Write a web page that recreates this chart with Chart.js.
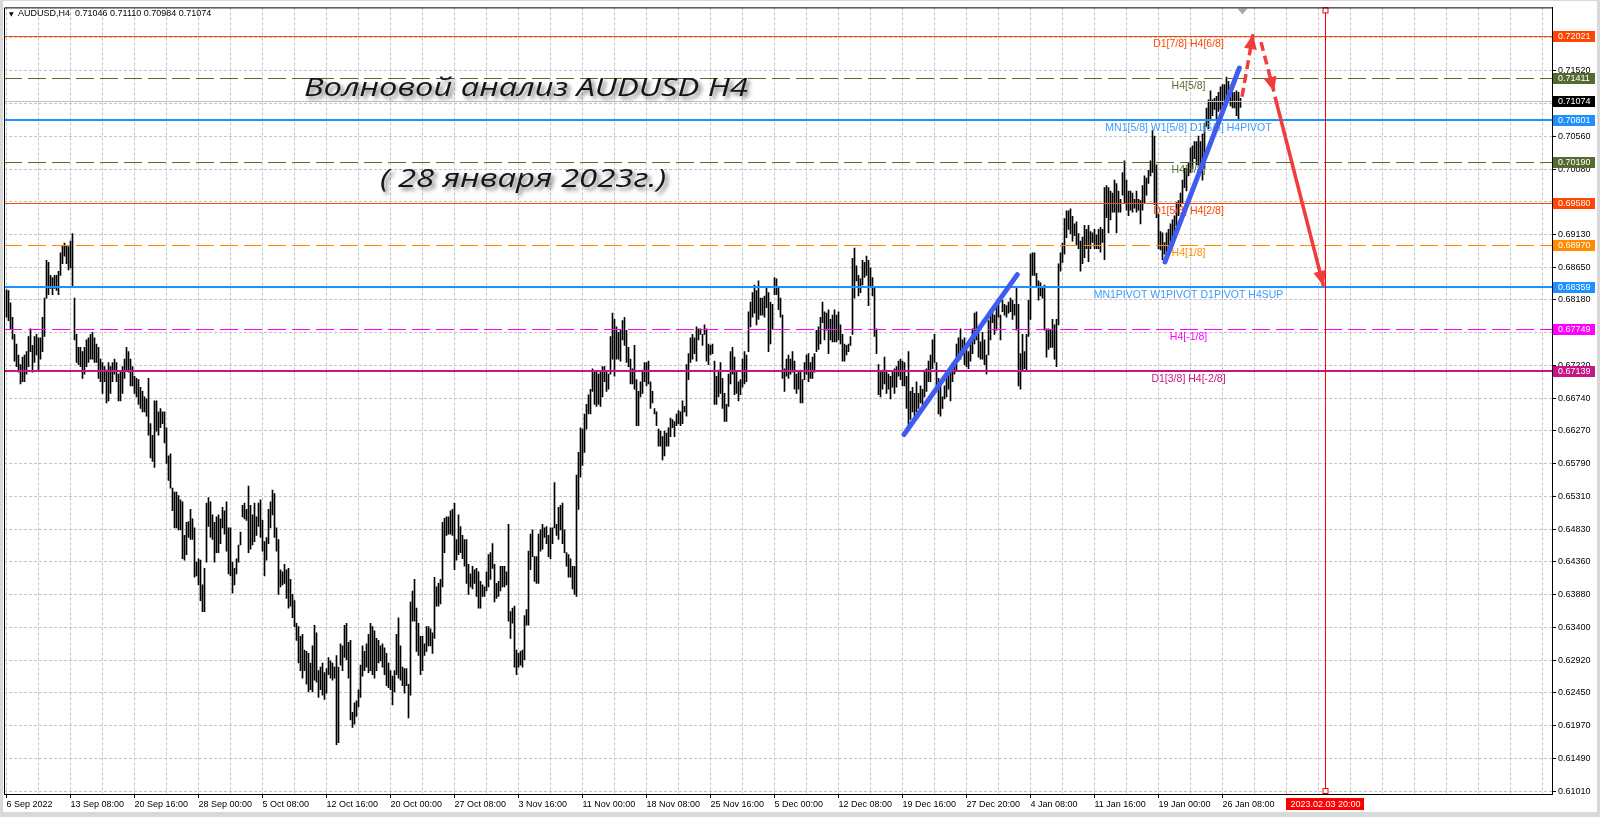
<!DOCTYPE html>
<html>
<head>
<meta charset="utf-8">
<script src="https://cdn.jsdelivr.net/npm/chart.js@4.4.1/dist/chart.umd.min.js"></script>
<style>
  html, body { margin: 0; padding: 0; background: #fff; }
  canvas { display: block; }
</style>
</head>
<body>
<canvas id="chart" width="1600" height="817"></canvas>
<script>
// H4 bars, 6 Sep 2022 00:00 .. 27 Jan 2023 20:00 (bar index = position)
var barHigh = [
  .6832,.6831,.6813,.6792,.6767,.6753,.6737,.6723,.6734,.6737, .6742,.6764,.6775,.6751,.6764,.6767,.6762,.6762,.6792,.6820,
  .6875,.6872,.6853,.6850,.6853,.6853,.6859,.6886,.6897,.6900, .6897,.6895,.6903,.6914,.6820,.6767,.6748,.6748,.6742,.6748,
  .6759,.6762,.6767,.6770,.6762,.6753,.6748,.6731,.6726,.6720, .6715,.6726,.6720,.6726,.6731,.6726,.6709,.6712,.6720,.6731,
  .6748,.6742,.6731,.6720,.6706,.6703,.6701,.6690,.6684,.6676, .6673,.6703,.6637,.6620,.6670,.6670,.6654,.6659,.6654,.6654,
  .6631,.6590,.6593,.6543,.6537,.6537,.6532,.6526,
  .6523,.6474,.6493,.6494,.6512,.6498,.6485,.6435,.6440,.6438, .6402,.6426,.6521,.6529,.6523,.6504,.6493,.6501,.6504,.6498,
  .6515,.6510,.6523,.6485,.6485,.6435,.6426,.6440,.6460,.6479, .6518,.6521,.6512,.6546,.6518,.6504,.6521,.6501,.6521,.6526,
  .6496,.6465,.6471,.6512,.6523,.6540,.6535,.6485,.6468,.6424, .6421,.6432,.6424,.6426,.6410,.6388,.6379,.6346,.6341,.6327,
  .6330,.6307,.6305,.6302,.6288,.6313,.6343,.6332,.6277,.6282, .6288,.6274,.6280,.6296,.6291,.6288,.6282,.6299,.6282,.6316,
  .6313,.6343,.6346,.6318,.6321,.6216,.6230,.6233,.6249,.6285,
  .6313,.6305,.6316,.6330,.6346,.6341,.6335,.6324,.6321,.6313, .6316,.6310,.6302,.6288,.6277,.6269,.6277,.6330,.6354,.6313,
  .6282,.6280,.6280,.6257,.6377,.6393,.6410,.6368,.6346,.6327, .6327,.6316,.6341,.6341,.6338,.6332,.6413,.6399,.6404,.6410,
  .6493,.6499,.6501,.6501,.6510,.6512,.6521,.6468,.6504,.6487, .6474,.6468,.6468,.6432,.6418,.6429,.6424,.6426,.6421,.6407,
  .6402,.6399,.6421,.6446,.6449,.6462,.6432,.6404,.6407,.6429, .6429,.6429,.6421,.6490,.6363,.6368,.6371,.6307,.6302,.6305,
  .6307,.6357,.6366,.6451,.6476,.6482,.6443,.6443,.6476,.6482,
  .6490,.6485,.6487,.6474,.6485,.6485,.6551,.6490,.6515,.6518, .6521,.6482,.6449,.6446,.6440,.6429,.6429,.6562,.6595,.6631,
  .6629,.6651,.6665,.6679,.6687,.6717,.6712,.6712,.6709,.6712, .6720,.6720,.6712,.6709,.6764,.6798,.6789,.6778,.6770,.6773,
  .6787,.6792,.6773,.6748,.6731,.6717,.6751,.6701,.6684,.6698, .6715,.6726,.6726,.6728,.6698,.6684,.6659,.6654,.6629,.6626,
  .6618,.6626,.6623,.6631,.6645,.6643,.6640,.6651,.6656,.6654, .6670,.6662,.6723,.6739,.6762,.6767,.6762,.6778,.6775,.6775,
  .6767,.6781,.6775,.6753,.6751,.6753,.6728,.6706,.6715,.6726,
  .6703,.6681,.6665,.6709,.6742,.6748,.6734,.6712,.6698,.6701, .6731,.6742,.6737,.6800,.6814,.6828,.6839,.6831,.6845,.6820,
  .6820,.6823,.6836,.6828,.6814,.6811,.6850,.6848,.6834,.6820, .6795,.6717,.6731,.6737,.6731,.6742,.6728,.6709,.6712,.6715,
  .6701,.6726,.6737,.6739,.6726,.6734,.6739,.6773,.6778,.6792, .6814,.6800,.6798,.6803,.6789,.6795,.6803,.6795,.6800,.6781,
  .6767,.6753,.6751,.6753,.6764,.6878,.6893,.6867,.6853,.6848, .6875,.6872,.6881,.6875,.6864,.6850,.6834,.6775,.6723,.6712,
  .6715,.6734,.6715,.6709,.6706,.6712,.6717,.6720,.6728,.6731,
  .6728,.6726,.6706,.6742,.6684,.6690,.6681,.6698,.6681,.6692, .6687,.6715,.6717,.6728,.6737,.6759,.6767,.6726,.6703,.6695,
  .6676,.6692,.6712,.6709,.6720,.6726,.6728,.6753,.6762,.6775, .6759,.6762,.6745,.6742,.6759,.6775,.6798,.6800,.6773,.6756,
  .6770,.6759,.6737,.6787,.6803,.6806,.6795,.6814,.6820,.6795, .6817,.6811,.6809,.6814,.6820,.6817,.6811,.6836,.6811,.6739,
  .6767,.6742,.6767,.6817,.6884,.6886,.6886,.6856,.6845,.6842, .6836,.6839,.6775,.6775,.6773,.6789,.6781,.6789,.6870,.6886,
  .6900,.6936,.6947,.6947,.6950,.6939,.6928,.6931,.6914,.6903,
  .6909,.6926,.6920,.6926,.6917,.6915,.6920,.6912,.6920,.6923, .6920,.6981,.6984,.6981,.6976,.6973,.6992,.6987,.6976,.6964,
  .7003,.7020,.6992,.6976,.6976,.6973,.6964,.6976,.6964,.6962, .6984,.6998,.6995,.7006,.7020,.7064,.7056,.7014,.6942,.6917,
  .6915,.6901,.6915,.6920,.6928,.6934,.6940,.6959,.6962,.6973, .6992,.7009,.7009,.7017,.7039,.7042,.7048,.7048,.7056,.7048,
  .7059,.7075,.7097,.7109,.7122,.7109,.7111,.7114,.7120,.7128, .7131,.7131,.7142,.7136,.7125,.7120,.7120,.7122,.7120,.7111
];
var barLow = [
  .6792,.6787,.6775,.6760,.6728,.6720,.6712,.6695,.6698,.6698, .6709,.6720,.6742,.6712,.6726,.6737,.6715,.6731,.6742,.6764,
  .6820,.6825,.6834,.6825,.6834,.6831,.6825,.6853,.6870,.6881, .6870,.6861,.6864,.6836,.6759,.6726,.6723,.6720,.6703,.6709,
  .6720,.6726,.6731,.6731,.6726,.6726,.6703,.6698,.6681,.6698, .6667,.6670,.6681,.6698,.6709,.6698,.6670,.6670,.6681,.6703,
  .6715,.6712,.6692,.6692,.6681,.6676,.6665,.6659,.6654,.6654, .6648,.6620,.6587,.6582,.6573,.6626,.6620,.6631,.6637,.6609,
  .6579,.6554,.6543,.6510,.6485,.6485,.6482,.6482,
  .6440,.6438,.6446,.6471,.6468,.6468,.6413,.6415,.6402,.6379, .6363,.6363,.6435,.6487,.6471,.6468,.6435,.6449,.6449,.6462,
  .6485,.6476,.6451,.6418,.6415,.6390,.6402,.6418,.6435,.6460, .6501,.6498,.6496,.6449,.6454,.6460,.6465,.6474,.6487,.6471,
  .6451,.6415,.6438,.6462,.6485,.6504,.6471,.6451,.6388,.6399, .6402,.6404,.6382,.6368,.6371,.6354,.6341,.6321,.6288,.6277,
  .6266,.6277,.6257,.6246,.6249,.6246,.6263,.6260,.6238,.6249, .6241,.6235,.6244,.6271,.6266,.6263,.6266,.6169,.6172,.6285,
  .6277,.6296,.6293,.6266,.6205,.6194,.6199,.6210,.6224,.6238,
  .6269,.6277,.6282,.6274,.6277,.6271,.6266,.6277,.6288,.6291, .6282,.6271,.6255,.6252,.6249,.6227,.6246,.6271,.6266,.6263,
  .6255,.6244,.6255,.6208,.6241,.6349,.6349,.6305,.6299,.6271, .6277,.6299,.6305,.6313,.6313,.6302,.6324,.6371,.6371,.6374,
  .6399,.6449,.6474,.6476,.6476,.6474,.6424,.6438,.6446,.6449, .6440,.6429,.6404,.6388,.6399,.6396,.6404,.6385,.6368,.6368,
  .6385,.6385,.6393,.6399,.6410,.6426,.6377,.6382,.6385,.6393, .6399,.6399,.6402,.6349,.6324,.6346,.6282,.6271,.6282,.6285,
  .6282,.6293,.6343,.6343,.6424,.6443,.6407,.6404,.6404,.6451,
  .6454,.6471,.6462,.6443,.6440,.6462,.6485,.6474,.6468,.6482, .6462,.6449,.6429,.6413,.6413,.6396,.6388,.6385,.6512,.6559,
  .6576,.6595,.6629,.6651,.6651,.6684,.6665,.6662,.6665,.6662, .6676,.6698,.6684,.6687,.6709,.6731,.6706,.6731,.6731,.6728,
  .6759,.6751,.6726,.6720,.6695,.6695,.6687,.6634,.6634,.6676, .6681,.6698,.6692,.6695,.6659,.6667,.6651,.6634,.6604,.6604,
  .6584,.6590,.6604,.6604,.6618,.6631,.6618,.6634,.6637,.6634, .6637,.6654,.6648,.6701,.6726,.6731,.6739,.6728,.6759,.6767,
  .6751,.6767,.6728,.6723,.6737,.6739,.6665,.6665,.6676,.6681,
  .6659,.6640,.6640,.6662,.6695,.6709,.6679,.6681,.6670,.6679, .6690,.6695,.6698,.6742,.6778,.6792,.6798,.6781,.6789,.6795,
  .6795,.6792,.6806,.6742,.6753,.6775,.6825,.6825,.6803,.6792, .6703,.6684,.6706,.6703,.6709,.6712,.6687,.6681,.6687,.6667,
  .6667,.6701,.6709,.6698,.6703,.6703,.6712,.6742,.6745,.6753, .6784,.6759,.6773,.6739,.6759,.6756,.6756,.6756,.6759,.6753,
  .6728,.6728,.6737,.6742,.6751,.6767,.6820,.6845,.6823,.6828, .6839,.6850,.6853,.6809,.6836,.6823,.6764,.6739,.6679,.6676,
  .6687,.6695,.6681,.6687,.6673,.6690,.6681,.6690,.6706,.6701,
  .6692,.6692,.6659,.6631,.6643,.6654,.6643,.6654,.6659,.6667, .6659,.6676,.6684,.6698,.6698,.6717,.6726,.6687,.6651,.6648,
  .6659,.6673,.6676,.6687,.6670,.6698,.6709,.6715,.6728,.6731, .6737,.6723,.6720,.6717,.6728,.6739,.6753,.6759,.6734,.6731,
  .6731,.6723,.6709,.6737,.6759,.6784,.6767,.6773,.6792,.6759, .6800,.6795,.6792,.6798,.6800,.6789,.6795,.6773,.6692,.6687,
  .6715,.6717,.6715,.6764,.6789,.6853,.6853,.6836,.6817,.6823, .6820,.6773,.6734,.6745,.6748,.6748,.6731,.6720,.6781,.6859,
  .6872,.6884,.6908,.6920,.6914,.6903,.6911,.6897,.6892,.6859,
  .6870,.6879,.6892,.6873,.6892,.6901,.6892,.6892,.6892,.6887, .6901,.6876,.6937,.6915,.6934,.6945,.6945,.6915,.6945,.6945,
  .6970,.6959,.6948,.6940,.6948,.6945,.6951,.6945,.6948,.6928, .6948,.6959,.6970,.6987,.6998,.7003,.6956,.6937,.6892,.6890,
  .6876,.6884,.6876,.6892,.6901,.6904,.6915,.6926,.6940,.6953, .6959,.6981,.6976,.6998,.7003,.7009,.7023,.7014,.7014,.7003,
  .6992,.7009,.7070,.7067,.7081,.7086,.7095,.7081,.7092,.7095, .7089,.7108,.7108,.7114,.7100,.7097,.7097,.7086,.7081,.7098
];
var lastOHLC = [0.71046, 0.71110, 0.70984, 0.71074];
var symbolName = 'AUDUSD,H4';

var tickBars = [0, 32, 64, 96, 128, 160, 192, 224, 256, 288, 320, 352, 384, 416, 448, 480, 512, 544, 576, 608];
var tickLabels = ['6 Sep 2022', '13 Sep 08:00', '20 Sep 16:00', '28 Sep 00:00', '5 Oct 08:00', '12 Oct 16:00',
  '20 Oct 00:00', '27 Oct 08:00', '3 Nov 16:00', '11 Nov 00:00', '18 Nov 08:00', '25 Nov 16:00', '5 Dec 00:00',
  '12 Dec 08:00', '19 Dec 16:00', '27 Dec 20:00', '4 Jan 08:00', '11 Jan 16:00', '19 Jan 00:00', '26 Jan 08:00'];
var priceTicks = [0.61010, 0.61490, 0.61970, 0.62450, 0.62920, 0.63400, 0.63880, 0.64360, 0.64830, 0.65310,
  0.65790, 0.66270, 0.66740, 0.67220, 0.67700, 0.68180, 0.68650, 0.69130, 0.69610, 0.70080, 0.70560,
  0.71040, 0.71520, 0.72000];

// Murrey / pivot levels
var levelPrices = [0.72021, 0.71411, 0.70801, 0.70190, 0.69580, 0.68970, 0.68359, 0.67749, 0.67139];
var levelNames = ['D1[7/8] H4[6/8]', 'H4[5/8]', 'MN1[5/8] W1[5/8] D1[6/8] H4PIVOT', 'H4[3/8]', 'D1[5/8] H4[2/8]',
  'H4[1/8]', 'MN1PIVOT W1PIVOT D1PIVOT H4SUP', 'H4[-1/8]', 'D1[3/8] H4[-2/8]'];

// drawn objects: [bar index, price]
var trendA = [[448.75, 0.66212], [505.4, 0.68542]];
var trendB = [[579.25, 0.68726], [616.4, 0.71552]];
var arrowUp = [[617.75, 0.71134], [623.25, 0.72046]];
var arrowDown = [[627.25, 0.71930], [633.75, 0.71206]];
var arrowMain = [[634.25, 0.71134], [658.5, 0.68376]];
var markerBar = 659;
var markerLabel = '2023.02.03 20:00';

var titleText = 'Волновой анализ AUDUSD H4';
var subtitleText = '( 28 января 2023г.)';

// look of the levels, same order as levelPrices
var levelLook = [
  { color: '#ff4500', text: '#ff4500', width: 1, dash: [] },
  { color: '#556b2f', text: '#556b2f', width: 1, dash: [18, 6] },
  { color: '#1e90ff', text: '#3d9bff', width: 2, dash: [] },
  { color: '#556b2f', text: '#556b2f', width: 1, dash: [18, 6] },
  { color: '#ff4500', text: '#ff4500', width: 1, dash: [] },
  { color: '#ff8c00', text: '#ff8c00', width: 1, dash: [18, 6] },
  { color: '#1e90ff', text: '#3d9bff', width: 2, dash: [] },
  { color: '#ff00ff', text: '#ff00ff', width: 1, dash: [18, 6] },
  { color: '#c71585', text: '#c71585', width: 2, dash: [] }
];
var labelBar = 591;
var axisFamily = "'Liberation Sans', Arial, sans-serif";
var axisSize = 9;

function pts(arr) {
  return arr.map(function (p) { return { x: p[0], y: p[1] }; });
}

var gridBars = [];
for (var g = 0; g <= 768; g += 16) gridBars.push(g);

function hline(ctx, x1, x2, py, color, width, dash) {
  var yy = width % 2 ? Math.round(py) + 0.5 : Math.round(py);
  ctx.save();
  ctx.strokeStyle = color;
  ctx.lineWidth = width;
  ctx.setLineDash(dash);
  ctx.beginPath();
  ctx.moveTo(x1, yy);
  ctx.lineTo(x2, yy);
  ctx.stroke();
  ctx.restore();
}

function arrowHead(ctx, x0, y0, x1, y1, color) {
  var a = Math.atan2(y1 - y0, x1 - x0);
  var L = 15, W = 6.5;
  ctx.save();
  ctx.fillStyle = color;
  ctx.beginPath();
  ctx.moveTo(x1, y1);
  ctx.lineTo(x1 - L * Math.cos(a) + W * Math.sin(a), y1 - L * Math.sin(a) - W * Math.cos(a));
  ctx.lineTo(x1 - L * Math.cos(a) - W * Math.sin(a), y1 - L * Math.sin(a) + W * Math.cos(a));
  ctx.closePath();
  ctx.fill();
  ctx.restore();
}

var overlay = {
  id: 'overlay',
  beforeDraw: function (chart) {
    var ctx = chart.ctx;
    ctx.save();
    ctx.fillStyle = '#d9d9d9';
    ctx.fillRect(0, 0, chart.width, chart.height);
    ctx.fillStyle = '#fff';
    ctx.fillRect(3, 1, chart.width - 6, chart.height - 6);
    ctx.restore();
  },
  afterDatasetDraw: function (chart, args) {
    if (args.index !== 0) return;
    var ctx = chart.ctx, a = chart.chartArea, x = chart.scales.x, y = chart.scales.y;
    // bid line
    hline(ctx, a.left, a.right, y.getPixelForValue(lastOHLC[3]), '#c0c0c0', 1, []);
    levelPrices.forEach(function (p, k) {
      var st = levelLook[k];
      hline(ctx, a.left, a.right, y.getPixelForValue(p), st.color, st.width, st.dash);
    });
    ctx.save();
    ctx.font = "10.5px 'Liberation Sans', Arial, sans-serif";
    ctx.textAlign = 'center';
    ctx.textBaseline = 'top';
    var lx = x.getPixelForValue(labelBar);
    levelPrices.forEach(function (p, k) {
      ctx.fillStyle = levelLook[k].text;
      ctx.fillText(levelNames[k], lx, Math.round(y.getPixelForValue(p)) + 3);
    });
    ctx.restore();
    // vertical time marker
    var mx = Math.round(x.getPixelForValue(markerBar)) + 0.5;
    ctx.save();
    ctx.strokeStyle = '#ff0000';
    ctx.lineWidth = 1;
    ctx.beginPath();
    ctx.moveTo(mx, a.top);
    ctx.lineTo(mx, a.bottom);
    ctx.stroke();
    ctx.restore();
  },
  afterDatasetsDraw: function (chart) {
    var ctx = chart.ctx, x = chart.scales.x, y = chart.scales.y;
    [arrowUp, arrowDown, arrowMain].forEach(function (arr) {
      var p0 = arr[arr.length - 2], p1 = arr[arr.length - 1];
      arrowHead(ctx, x.getPixelForValue(p0[0]), y.getPixelForValue(p0[1]),
        x.getPixelForValue(p1[0]), y.getPixelForValue(p1[1]), '#f23c3c');
    });
  },
  afterDraw: function (chart) {
    var ctx = chart.ctx, a = chart.chartArea, x = chart.scales.x, y = chart.scales.y;
    ctx.save();
    // price boxes on the right axis
    var boxes = [[lastOHLC[3], '#000000']];
    levelPrices.forEach(function (p, k) { boxes.push([p, levelLook[k].color]); });
    ctx.font = axisSize + 'px ' + axisFamily;
    ctx.textBaseline = 'middle';
    ctx.textAlign = 'left';
    boxes.forEach(function (b) {
      var py = Math.round(y.getPixelForValue(b[0]));
      ctx.fillStyle = b[1];
      ctx.fillRect(a.right + 1, py - 5, 42, 11);
      ctx.fillStyle = '#fff';
      ctx.fillText(b[0].toFixed(5), a.right + 6, py + 0.5);
    });
    // time marker label on the bottom axis
    var mx = Math.round(x.getPixelForValue(markerBar)) + 0.5;
    ctx.fillStyle = '#ff0000';
    ctx.fillRect(mx - 39.5, a.bottom + 4, 78, 12);
    ctx.fillStyle = '#fff';
    ctx.textAlign = 'center';
    ctx.fillText(markerLabel, mx, a.bottom + 10.5);
    // little squares on the marker line
    ctx.strokeStyle = '#ff0000';
    ctx.fillStyle = '#fff';
    ctx.lineWidth = 1;
    [a.top + 3, a.bottom - 3].forEach(function (sy) {
      ctx.fillRect(mx - 2.5, sy - 2.5, 5, 5);
      ctx.strokeRect(mx - 2.5, sy - 2.5, 5, 5);
    });
    // chart shift marker
    var sx = x.getPixelForValue(barHigh.length - 1) + 2;
    ctx.fillStyle = '#a8a8a8';
    ctx.beginPath();
    ctx.moveTo(sx - 5, a.top + 1);
    ctx.lineTo(sx + 5, a.top + 1);
    ctx.lineTo(sx, a.top + 7);
    ctx.closePath();
    ctx.fill();
    // frame
    ctx.strokeStyle = '#000';
    ctx.beginPath();
    ctx.moveTo(a.left + 0.5, a.bottom);
    ctx.lineTo(a.left + 0.5, a.top + 0.5);
    ctx.lineTo(a.right, a.top + 0.5);
    ctx.stroke();
    // header
    ctx.fillStyle = '#000';
    ctx.textAlign = 'left';
    ctx.font = "6px 'DejaVu Sans', sans-serif";
    ctx.fillText('\u25BC', 9, 14);
    ctx.font = axisSize + 'px ' + axisFamily;
    ctx.fillText(symbolName + '  ' + lastOHLC.map(function (v) { return v.toFixed(5); }).join(' '), 18, 14);
    // titles
    ctx.textBaseline = 'alphabetic';
    ctx.shadowColor = 'rgba(0,0,0,0.55)';
    ctx.shadowBlur = 4;
    ctx.shadowOffsetX = 3;
    ctx.shadowOffsetY = 3;
    ctx.fillStyle = '#151515';
    function fitText(txt, left, base, width, size) {
      ctx.font = 'italic ' + size + "px 'Open Sans', 'Noto Sans', sans-serif";
      var w = ctx.measureText(txt).width;
      ctx.save();
      ctx.translate(left, base);
      ctx.scale(width / w, 1);
      ctx.fillText(txt, 0, 0);
      ctx.restore();
    }
    fitText(titleText, 304, 96, 444, 26);
    fitText(subtitleText, 380, 187, 286, 25);
    ctx.restore();
  }
};

var lineBase = { type: 'line', pointRadius: 0, fill: false, tension: 0, order: 0 };

new Chart(document.getElementById('chart'), {
  type: 'bar',
  data: {
    datasets: [
      {
        type: 'bar',
        data: barHigh.map(function (h, i) { return { x: i, y: [barLow[i], h] }; }),
        backgroundColor: '#000',
        borderWidth: 0,
        barThickness: 1,
        order: 10
      },
      Object.assign({}, lineBase, { data: pts(trendA), borderColor: '#3f5cf0', borderWidth: 5, borderCapStyle: 'round' }),
      Object.assign({}, lineBase, { data: pts(trendB), borderColor: '#3f5cf0', borderWidth: 5, borderCapStyle: 'round' }),
      Object.assign({}, lineBase, { data: pts(arrowUp), borderColor: '#f23c3c', borderWidth: 3.5, borderDash: [9, 5] }),
      Object.assign({}, lineBase, { data: pts(arrowDown), borderColor: '#f23c3c', borderWidth: 3.5, borderDash: [9, 5] }),
      Object.assign({}, lineBase, { data: pts(arrowMain), borderColor: '#f23c3c', borderWidth: 3.5 })
    ]
  },
  options: {
    responsive: false,
    animation: false,
    devicePixelRatio: 1,
    layout: { padding: { left: 4, top: 2, right: 0, bottom: 0 } },
    plugins: { legend: { display: false }, tooltip: { enabled: false } },
    scales: {
      x: {
        type: 'linear',
        position: 'bottom',
        min: -1.25,
        max: 772.75,
        offset: false,
        afterBuildTicks: function (s) { s.ticks = gridBars.map(function (v) { return { value: v }; }); },
        afterFit: function (s) { s.height = 23; },
        ticks: {
          autoSkip: false,
          maxRotation: 0,
          minRotation: 0,
          align: 'start',
          padding: 1,
          color: '#000',
          font: { family: axisFamily, size: axisSize },
          callback: function (v) {
            var k = tickBars.indexOf(v);
            return k >= 0 ? tickLabels[k] : '';
          }
        },
        grid: {
          offset: false,
          color: '#c4c4c4',
          tickLength: 4,
          tickColor: function (c) { return c.tick && tickBars.indexOf(c.tick.value) >= 0 ? '#000' : 'rgba(0,0,0,0)'; }
        },
        border: { display: true, color: '#000', width: 1, dash: [3, 2] }
      },
      y: {
        position: 'right',
        min: 0.609709,
        max: 0.724365,
        beginAtZero: false,
        afterBuildTicks: function (s) { s.ticks = priceTicks.map(function (v) { return { value: v }; }); },
        afterFit: function (s) { s.width = 48; },
        ticks: {
          padding: 2,
          color: '#000',
          font: { family: axisFamily, size: axisSize },
          callback: function (v) { return Number(v).toFixed(5); }
        },
        grid: { color: '#c4c4c4', tickLength: 4, tickColor: '#000' },
        border: { display: true, color: '#000', width: 1, dash: [3, 2] }
      }
    }
  },
  plugins: [overlay]
});
</script>
</body>
</html>
